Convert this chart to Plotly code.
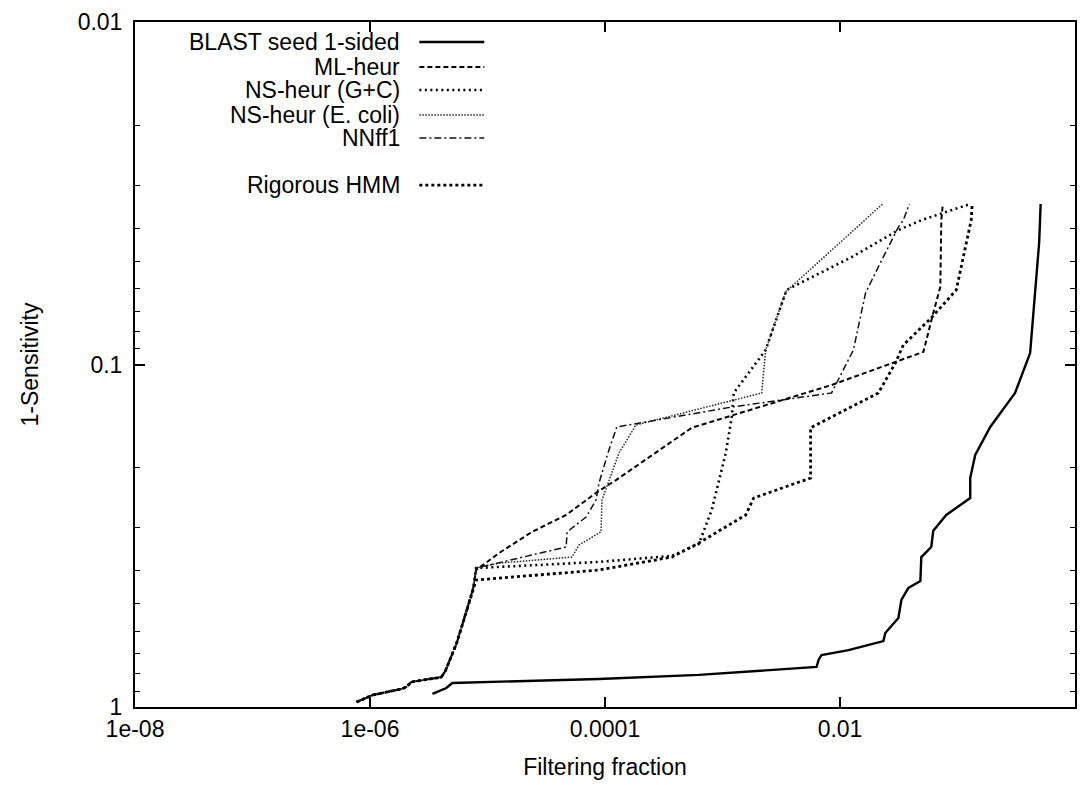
import plotly.graph_objects as go

# Filtering fraction (x) vs 1-Sensitivity (y) for each seed / heuristic
blast_x = [3.40e-6, 4.46e-6, 5.02e-6, 8.89e-5, 6.29e-4, 6.32e-3, 6.57e-3, 6.97e-3, 1.181e-2,
           2.12e-2, 2.34e-2, 2.43e-2, 3.14e-2, 3.33e-2, 3.82e-2, 4.83e-2, 4.92e-2, 5.98e-2,
           6.22e-2, 8.02e-2, 0.1283, 0.1283, 0.1415, 0.190, 0.309, 0.415, 0.431, 0.466,
           0.495, 0.504, 0.510]
blast_y = [0.916, 0.880, 0.851, 0.828, 0.806, 0.764, 0.729, 0.705, 0.682,
           0.646, 0.642, 0.608, 0.550, 0.487, 0.449, 0.4286, 0.365, 0.341,
           0.306, 0.275, 0.2454, 0.2145, 0.1837, 0.1522, 0.1211, 0.0926, 0.0793, 0.0594,
           0.0442, 0.0379, 0.0340]

# shared low-filtering segment
low_x = [7.7e-7, 1.05e-6, 1.85e-6, 2.04e-6, 2.25e-6, 2.79e-6, 4.05e-6, 4.38e-6,
         4.83e-6, 5.43e-6, 6.10e-6, 7.0e-6, 7.57e-6]
low_y = [0.967, 0.923, 0.886, 0.874, 0.845, 0.834, 0.818, 0.785,
         0.724, 0.655, 0.576, 0.494, 0.449]

ml_x = low_x + [8.0e-6, 1.258e-5, 2.40e-5, 4.67e-5, 8.39e-5, 1.24e-4, 5.48e-4, 8.47e-3,
                2.96e-2, 5.12e-2, 6.22e-2, 7.14e-2, 7.28e-2, 7.50e-2]
ml_y = low_y + [0.398, 0.355, 0.308, 0.275, 0.237, 0.2175, 0.153, 0.1148,
                0.0983, 0.0919, 0.0707, 0.0594, 0.0379, 0.0340]

gc_x = low_x + [8.0e-6, 8.89e-5, 3.71e-4, 6.29e-4, 8.10e-4, 1.066e-3, 1.20e-3, 1.246e-3,
                2.33e-3, 3.51e-3, 1.252e-2, 3.14e-2, 4.92e-2, 0.128]
gc_y = low_y + [0.393, 0.377, 0.362, 0.334, 0.266, 0.1813, 0.1423, 0.1211,
                0.0907, 0.0606, 0.0486, 0.0405, 0.0379, 0.0340]

ecoli_x = low_x + [8.0e-6, 1.258e-5, 5.24e-5, 6.01e-5, 9.25e-5, 9.43e-5, 1.315e-4, 1.834e-4,
                   2.155e-3, 2.33e-3, 3.44e-3, 1.65e-2, 2.30e-2]
ecoli_y = low_y + [0.393, 0.380, 0.365, 0.3365, 0.308, 0.2487, 0.1813, 0.1502,
                   0.1211, 0.0907, 0.0614, 0.0379, 0.0340]

nn_x = low_x + [8.0e-6, 4.67e-5, 4.76e-5, 6.90e-5, 8.39e-5, 8.89e-5, 1.08e-4, 1.26e-4,
                1.20e-3, 8.47e-3, 1.30e-2, 1.65e-2, 2.12e-2, 3.14e-2, 3.46e-2, 3.89e-2]
nn_y = low_y + [0.393, 0.341, 0.308, 0.279, 0.2487, 0.2218, 0.1777, 0.1522,
                0.1331, 0.1211, 0.0907, 0.0618, 0.0519, 0.0397, 0.0379, 0.0340]

hmm_x = low_x + [8.0e-6, 8.89e-5, 3.71e-4, 6.29e-4, 1.576e-3, 1.843e-3, 5.62e-3, 5.62e-3,
                 2.12e-2, 2.96e-2, 3.46e-2, 5.98e-2, 9.76e-2, 0.1308, 0.1334]
hmm_y = low_y + [0.426, 0.398, 0.365, 0.332, 0.275, 0.2454, 0.2145, 0.153,
                 0.1211, 0.099, 0.0877, 0.0731, 0.0606, 0.0379, 0.0340]

names = ["BLAST seed 1-sided", "ML-heur", "NS-heur (G+C)", "NS-heur (E. coli)", "NNff1",
         "Rigorous HMM"]

x_tickvals = [1e-8, 1e-6, 1e-4, 1e-2, 1]
x_ticktext = ["1e-08", "1e-06", "0.0001", "0.01", "1"]
y_tickvals = [0.01, 0.1, 1]
y_ticktext = ["0.01", "0.1", "1"]
y_minor = [0.02, 0.03, 0.04, 0.05, 0.06, 0.07, 0.08, 0.09,
           0.2, 0.3, 0.4, 0.5, 0.6, 0.7, 0.8, 0.9]

styles = [
    dict(color="black", width=2.4, dash="solid"),
    dict(color="black", width=2.0, dash="5px,3px"),
    dict(color="black", width=2.6, dash="2px,3.5px"),
    dict(color="#222", width=1.5, dash="1.5px,1.5px"),
    dict(color="#111", width=1.5, dash="7px,3px,2px,3px"),
    dict(color="black", width=2.8, dash="3px,3px"),
]
series = [(blast_x, blast_y), (ml_x, ml_y), (gc_x, gc_y), (ecoli_x, ecoli_y),
          (nn_x, nn_y), (hmm_x, hmm_y)]

fig = go.Figure()
for (xs, ys), name, st in zip(series, names, styles):
    fig.add_trace(go.Scatter(x=xs, y=ys, mode="lines", name=name, line=st,
                             showlegend=False))

FONT = "Liberation Sans, Arial, Helvetica, sans-serif"

# gnuplot-style key: right-aligned label followed by a line sample
key_rows = [0.9708, 0.9343, 0.9007, 0.8642, 0.8307, 0.7620]
for name, st, yk in zip(names, styles, key_rows):
    fig.add_annotation(x=0.2845, y=yk, xref="paper", yref="paper", text=name,
                       showarrow=False, xanchor="right", yanchor="middle",
                       font=dict(family=FONT, size=23, color="black"))
    fig.add_shape(type="line", xref="paper", yref="paper", x0=0.3025, x1=0.3716,
                  y0=yk, y1=yk, line=st)

fig.update_layout(
    width=1080, height=785,
    margin=dict(l=135, r=3, t=22, b=78),
    paper_bgcolor="white", plot_bgcolor="white",
    font=dict(family=FONT, size=23, color="black"),
)
fig.update_xaxes(
    type="log", range=[-8, 0],
    tickmode="array", tickvals=x_tickvals, ticktext=x_ticktext,
    ticks="inside", ticklen=10, tickwidth=1.5, tickcolor="black",
    showline=True, linecolor="black", linewidth=2, mirror="allticks",
    showgrid=False, zeroline=False, ticklabelstandoff=0,
    title=dict(text="Filtering fraction", font=dict(size=23), standoff=18),
)
fig.update_yaxes(
    type="log", range=[0, -2],
    tickmode="array", tickvals=y_tickvals, ticktext=y_ticktext,
    ticks="inside", ticklen=10, tickwidth=1.5, tickcolor="black",
    minor=dict(tickmode="array", tickvals=y_minor, ticks="inside", ticklen=5,
               tickwidth=1.2, tickcolor="black", showgrid=False),
    showline=True, linecolor="black", linewidth=2, mirror="allticks",
    showgrid=False, zeroline=False, ticklabelstandoff=6,
    title=dict(text="1-Sensitivity", font=dict(size=23), standoff=33),
)

fig.write_html("out.html")
